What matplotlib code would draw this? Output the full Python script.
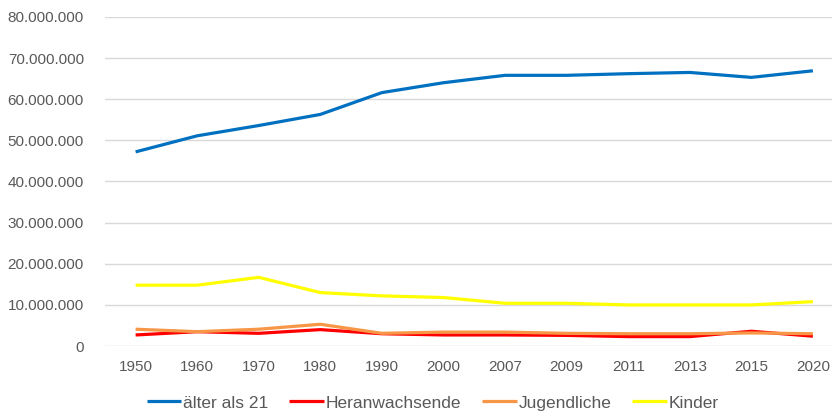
"""Line chart: population by age group, 1950-2020."""

import matplotlib
matplotlib.use('Agg')
import matplotlib.pyplot as plt
from matplotlib.ticker import FuncFormatter
import numpy as np

years = ['1950', '1960', '1970', '1980', '1990', '2000', '2007',
         '2009', '2011', '2013', '2015', '2020']
aelter_21 = [47.2, 51.1, 53.6, 56.3, 61.6, 64.0, 65.8,
             65.8, 66.2, 66.5, 65.3, 66.9]
heranwachsende = [2.7, 3.5, 3.1, 4.0, 3.0, 2.7, 2.7,
                  2.6, 2.3, 2.3, 3.6, 2.4]
jugendliche = [4.1, 3.5, 4.1, 5.3, 3.1, 3.4, 3.4,
               3.1, 3.0, 3.0, 3.2, 3.0]
kinder = [14.8, 14.8, 16.7, 13.0, 12.2, 11.8, 10.4,
          10.4, 10.0, 10.0, 10.0, 10.8]

series = [
    ('älter als 21', aelter_21, '#0070C0'),
    ('Heranwachsende', heranwachsende, '#FF0000'),
    ('Jugendliche', jugendliche, '#F79646'),
    ('Kinder', kinder, '#FFFF00'),
]

plt.rcParams['font.family'] = ['Liberation Sans', 'DejaVu Sans']
text_col = '#595959'

fig = plt.figure(figsize=(8.32, 4.12), dpi=100)
ax = fig.add_axes([0.126, 0.160, 0.874, 0.799])

x = np.arange(len(years))
for label, vals, col in series:
    ax.plot(x, np.array(vals) * 1e6, color=col, lw=2.3, label=label,
            solid_capstyle='butt')

ax.set_ylim(0, 80e6)
ax.set_yticks(np.arange(0, 80e6 + 1, 10e6))
ax.yaxis.set_major_formatter(
    FuncFormatter(lambda v, _: f'{int(v):,}'.replace(',', '.')))
ax.set_xlim(-0.5, 11.31)
ax.set_xticks(x)
ax.set_xticklabels(years)

ax.grid(True, axis='y', color='#D9D9D9', lw=1)
ax.set_axisbelow(True)
for s in ax.spines.values():
    s.set_visible(False)
ax.tick_params(length=0, colors=text_col, labelsize=11)
ax.tick_params(axis='y', pad=15)
ax.tick_params(axis='x', pad=10)

fig.legend(loc='center', bbox_to_anchor=(0.52, 0.022), ncol=4,
           frameon=False, fontsize=12.5, labelcolor=text_col,
           handlelength=2.0, handletextpad=0.1, columnspacing=1.2)

fig.savefig('out.png', dpi=100)
